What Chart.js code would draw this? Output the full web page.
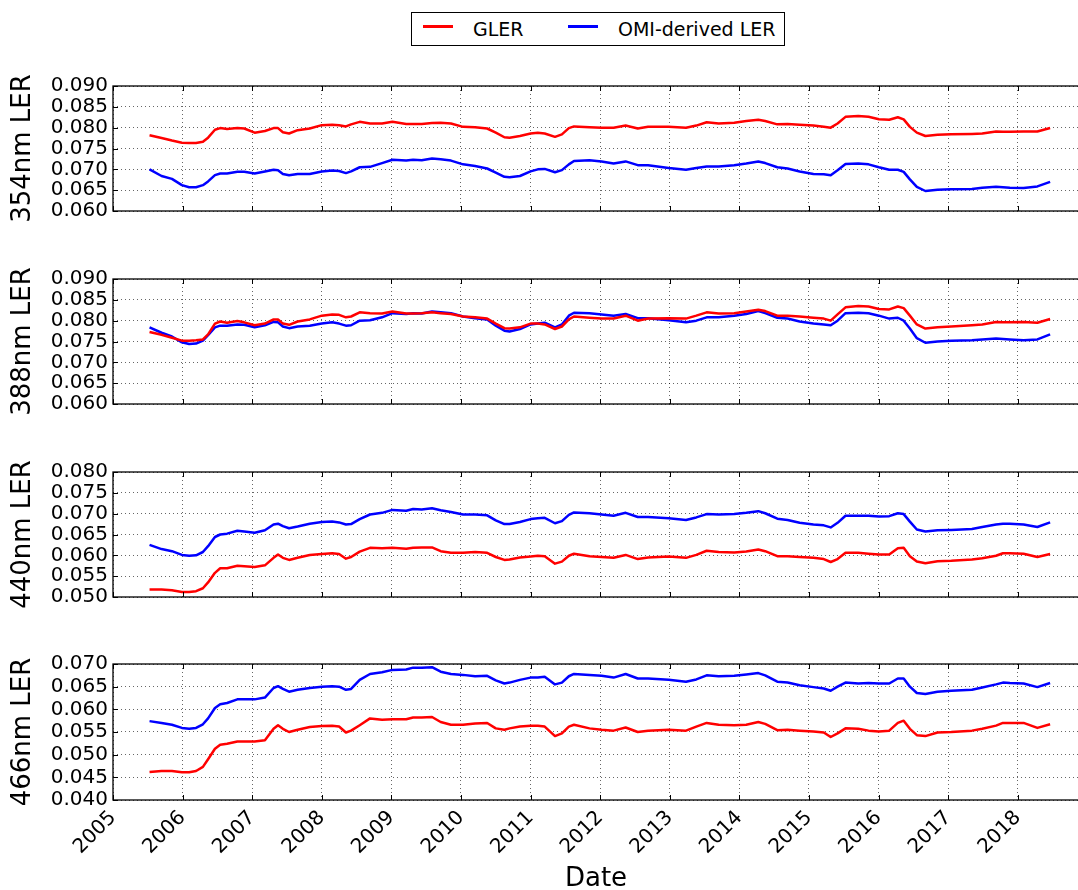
<!DOCTYPE html>
<html>
<head>
<meta charset="utf-8">
<script src="https://cdn.jsdelivr.net/npm/chart.js@4.4.1/dist/chart.umd.min.js"></script>
<style>
  body { margin: 0; background: #fff; }
  #wrap { position: relative; width: 1078px; height: 890px; overflow: hidden; font-family: "DejaVu Sans", sans-serif; }
  #legend { position: absolute; left: 411px; top: 12px; width: 374px; height: 34px; box-sizing: border-box; border: 1px solid #000; background: #fff; z-index: 2; }
  #legend .swatch { position: absolute; top: 12px; width: 30px; height: 3px; }
  #legend .lab { position: absolute; top: 0; line-height: 32px; font-size: 19px; color: #000; white-space: nowrap; }
</style>
</head>
<body>
<div id="wrap">
  <div id="legend">
    <span class="swatch" style="left:11px;background:#ff0000"></span><span class="lab" style="left:61px">GLER</span>
    <span class="swatch" style="left:156px;background:#0000ff"></span><span class="lab" style="left:206px">OMI-derived LER</span>
  </div>
</div>
<script>
// monthly samples, decimal years
const dates = [
  2005.525, 2005.698, 2005.847, 2005.990, 2006.094, 2006.193, 2006.292, 2006.366, 2006.465, 2006.540,
  2006.639, 2006.787, 2006.886, 2007.035, 2007.183, 2007.307, 2007.371, 2007.441, 2007.530, 2007.653,
  2007.827, 2008.000, 2008.149, 2008.248, 2008.347, 2008.421, 2008.545, 2008.693, 2008.866, 2009.015,
  2009.213, 2009.312, 2009.436, 2009.584, 2009.708, 2009.856, 2010.030, 2010.203, 2010.376, 2010.500,
  2010.624, 2010.698, 2010.847, 2011.000,
  2011.104, 2011.203, 2011.351, 2011.450, 2011.550, 2011.624, 2011.847, 2012.020, 2012.193, 2012.366,
  2012.540, 2012.688, 2012.985, 2013.233, 2013.381, 2013.530, 2013.703, 2013.926, 2014.099, 2014.272,
  2014.371, 2014.545, 2014.693, 2014.866, 2015.064, 2015.213, 2015.312, 2015.411, 2015.525, 2015.708,
  2015.856, 2016.005, 2016.153, 2016.277, 2016.361, 2016.450, 2016.550, 2016.673, 2016.847, 2017.045,
  2017.342, 2017.490, 2017.688, 2017.787, 2017.886, 2018.084, 2018.282, 2018.465
];

const gler354 = [
  0.0782, 0.0775, 0.0769, 0.0764, 0.0763, 0.0763, 0.0766, 0.0776, 0.0795, 0.0799,
  0.0797, 0.0799, 0.0798, 0.0788, 0.0792, 0.0799, 0.0799, 0.0789, 0.0786, 0.0794,
  0.0798, 0.0806, 0.0807, 0.0806, 0.0803, 0.0808, 0.0814, 0.0810, 0.0810, 0.0814,
  0.0809, 0.0809, 0.0809, 0.0811, 0.0812, 0.0810, 0.0802, 0.0801, 0.0798, 0.0788,
  0.0777, 0.0776, 0.0780, 0.0786,
  0.0788, 0.0786, 0.0778, 0.0784, 0.0799, 0.0803, 0.0801, 0.0800, 0.0800, 0.0805,
  0.0798, 0.0802, 0.0802, 0.0800, 0.0805, 0.0813, 0.0810, 0.0812, 0.0816, 0.0819,
  0.0816, 0.0808, 0.0809, 0.0807, 0.0805, 0.0802, 0.0800, 0.0810, 0.0826, 0.0828,
  0.0826, 0.0820, 0.0819, 0.0825, 0.0820, 0.0802, 0.0788, 0.0780, 0.0783, 0.0784,
  0.0785, 0.0786, 0.0791, 0.0790, 0.0790, 0.0791, 0.0791, 0.0799
];
const omi354 = [
  0.0700, 0.0684, 0.0677, 0.0662, 0.0657, 0.0657, 0.0662, 0.0671, 0.0686, 0.0690,
  0.0690, 0.0694, 0.0694, 0.0690, 0.0695, 0.0699, 0.0698, 0.0689, 0.0686, 0.0689,
  0.0689, 0.0695, 0.0697, 0.0696, 0.0691, 0.0695, 0.0705, 0.0706, 0.0715, 0.0723,
  0.0721, 0.0723, 0.0722, 0.0726, 0.0724, 0.0721, 0.0712, 0.0708, 0.0702, 0.0692,
  0.0682, 0.0681, 0.0684, 0.0695,
  0.0700, 0.0701, 0.0693, 0.0698, 0.0712, 0.0720, 0.0722, 0.0719, 0.0714, 0.0719,
  0.0710, 0.0710, 0.0703, 0.0699, 0.0703, 0.0707, 0.0707, 0.0710, 0.0714, 0.0719,
  0.0715, 0.0705, 0.0702, 0.0695, 0.0689, 0.0688, 0.0686, 0.0698, 0.0713, 0.0714,
  0.0712, 0.0705, 0.0699, 0.0699, 0.0694, 0.0676, 0.0658, 0.0648, 0.0651, 0.0652,
  0.0653, 0.0656, 0.0658, 0.0657, 0.0656, 0.0655, 0.0659, 0.0670
];
const gler388 = [
  0.0773, 0.0766, 0.0759, 0.0752, 0.0752, 0.0753, 0.0755, 0.0767, 0.0793, 0.0798,
  0.0795, 0.0799, 0.0796, 0.0789, 0.0793, 0.0803, 0.0803, 0.0793, 0.0790, 0.0798,
  0.0803, 0.0812, 0.0815, 0.0814, 0.0808, 0.0810, 0.0820, 0.0818, 0.0817, 0.0822,
  0.0817, 0.0817, 0.0818, 0.0820, 0.0818, 0.0816, 0.0810, 0.0808, 0.0805, 0.0793,
  0.0782, 0.0781, 0.0784, 0.0793,
  0.0793, 0.0791, 0.0780, 0.0786, 0.0803, 0.0810, 0.0807, 0.0805, 0.0805, 0.0812,
  0.0800, 0.0805, 0.0806, 0.0805, 0.0812, 0.0820, 0.0817, 0.0818, 0.0822, 0.0826,
  0.0823, 0.0812, 0.0812, 0.0810, 0.0807, 0.0805, 0.0800, 0.0815, 0.0832, 0.0835,
  0.0834, 0.0828, 0.0827, 0.0834, 0.0830, 0.0812, 0.0791, 0.0781, 0.0784, 0.0786,
  0.0789, 0.0791, 0.0797, 0.0796, 0.0796, 0.0797, 0.0795, 0.0804
];
const omi388 = [
  0.0784, 0.0771, 0.0762, 0.0748, 0.0744, 0.0745, 0.0752, 0.0765, 0.0784, 0.0788,
  0.0788, 0.0791, 0.0790, 0.0784, 0.0789, 0.0797, 0.0796, 0.0786, 0.0782, 0.0786,
  0.0788, 0.0793, 0.0796, 0.0793, 0.0788, 0.0789, 0.0800, 0.0801, 0.0808, 0.0818,
  0.0816, 0.0818, 0.0817, 0.0822, 0.0820, 0.0818, 0.0810, 0.0806, 0.0803, 0.0788,
  0.0776, 0.0774, 0.0780, 0.0791,
  0.0793, 0.0795, 0.0784, 0.0791, 0.0812, 0.0819, 0.0818, 0.0815, 0.0812, 0.0816,
  0.0806, 0.0806, 0.0801, 0.0796, 0.0800, 0.0808, 0.0808, 0.0812, 0.0816, 0.0823,
  0.0818, 0.0807, 0.0805, 0.0798, 0.0793, 0.0791, 0.0789, 0.0800, 0.0818, 0.0819,
  0.0818, 0.0812, 0.0805, 0.0807, 0.0800, 0.0781, 0.0758, 0.0747, 0.0750, 0.0752,
  0.0753, 0.0755, 0.0757, 0.0756, 0.0755, 0.0753, 0.0755, 0.0767
];
const gler440 = [
  0.0518, 0.0518, 0.0516, 0.0512, 0.0512, 0.0514, 0.0521, 0.0535, 0.0558, 0.0569,
  0.0569, 0.0575, 0.0574, 0.0572, 0.0576, 0.0594, 0.0602, 0.0594, 0.0589, 0.0594,
  0.0601, 0.0603, 0.0605, 0.0603, 0.0592, 0.0596, 0.0609, 0.0618, 0.0617, 0.0618,
  0.0616, 0.0618, 0.0619, 0.0619, 0.0610, 0.0606, 0.0606, 0.0608, 0.0606, 0.0596,
  0.0589, 0.0590, 0.0595, 0.0597,
  0.0599, 0.0598, 0.0580, 0.0585, 0.0599, 0.0604, 0.0598, 0.0596, 0.0594, 0.0601,
  0.0591, 0.0595, 0.0597, 0.0594, 0.0601, 0.0611, 0.0608, 0.0607, 0.0609, 0.0614,
  0.0610, 0.0598, 0.0598, 0.0596, 0.0594, 0.0591, 0.0584, 0.0591, 0.0606, 0.0606,
  0.0604, 0.0602, 0.0602, 0.0617, 0.0618, 0.0598, 0.0585, 0.0581, 0.0586, 0.0587,
  0.0590, 0.0593, 0.0599, 0.0605, 0.0605, 0.0604, 0.0596, 0.0603
];
const omi440 = [
  0.0625, 0.0615, 0.0610, 0.0601, 0.0599, 0.0600, 0.0608, 0.0622, 0.0644, 0.0650,
  0.0652, 0.0659, 0.0657, 0.0654, 0.0660, 0.0674, 0.0676, 0.0670, 0.0665, 0.0669,
  0.0676, 0.0680, 0.0681, 0.0679, 0.0674, 0.0675, 0.0687, 0.0698, 0.0702, 0.0709,
  0.0707, 0.0711, 0.0710, 0.0713, 0.0708, 0.0704, 0.0698, 0.0698, 0.0696, 0.0684,
  0.0675, 0.0675, 0.0680, 0.0687,
  0.0689, 0.0690, 0.0677, 0.0682, 0.0697, 0.0703, 0.0701, 0.0698, 0.0695, 0.0702,
  0.0692, 0.0692, 0.0689, 0.0685, 0.0691, 0.0699, 0.0698, 0.0699, 0.0702, 0.0706,
  0.0701, 0.0688, 0.0685, 0.0678, 0.0674, 0.0672, 0.0667, 0.0678, 0.0695, 0.0695,
  0.0695, 0.0693, 0.0694, 0.0701, 0.0699, 0.0681, 0.0662, 0.0657, 0.0660, 0.0661,
  0.0663, 0.0668, 0.0674, 0.0676, 0.0676, 0.0674, 0.0668, 0.0679
];
const gler466 = [
  0.0462, 0.0464, 0.0464, 0.0461, 0.0461, 0.0464, 0.0473, 0.0490, 0.0513, 0.0522,
  0.0524, 0.0529, 0.0529, 0.0529, 0.0532, 0.0557, 0.0565, 0.0557, 0.0550, 0.0555,
  0.0561, 0.0563, 0.0564, 0.0562, 0.0549, 0.0553, 0.0565, 0.0580, 0.0577, 0.0578,
  0.0578, 0.0582, 0.0582, 0.0583, 0.0572, 0.0566, 0.0566, 0.0569, 0.0570, 0.0558,
  0.0555, 0.0558, 0.0562, 0.0564,
  0.0564, 0.0562, 0.0541, 0.0547, 0.0562, 0.0566, 0.0558, 0.0555, 0.0553, 0.0560,
  0.0550, 0.0553, 0.0555, 0.0553, 0.0562, 0.0570, 0.0566, 0.0565, 0.0566, 0.0572,
  0.0568, 0.0554, 0.0555, 0.0553, 0.0551, 0.0549, 0.0539, 0.0547, 0.0558, 0.0557,
  0.0553, 0.0551, 0.0553, 0.0570, 0.0575, 0.0557, 0.0543, 0.0541, 0.0549, 0.0550,
  0.0553, 0.0557, 0.0564, 0.0570, 0.0570, 0.0570, 0.0559, 0.0567
];
const omi466 = [
  0.0574, 0.0570, 0.0566, 0.0559, 0.0557, 0.0559, 0.0567, 0.0580, 0.0603, 0.0611,
  0.0614, 0.0622, 0.0622, 0.0622, 0.0626, 0.0647, 0.0651, 0.0645, 0.0639, 0.0643,
  0.0647, 0.0650, 0.0651, 0.0650, 0.0643, 0.0645, 0.0665, 0.0678, 0.0682, 0.0687,
  0.0688, 0.0692, 0.0692, 0.0693, 0.0683, 0.0678, 0.0676, 0.0673, 0.0674, 0.0664,
  0.0657, 0.0659, 0.0665, 0.0670,
  0.0670, 0.0672, 0.0655, 0.0659, 0.0673, 0.0678, 0.0676, 0.0674, 0.0670, 0.0678,
  0.0668, 0.0668, 0.0665, 0.0661, 0.0666, 0.0675, 0.0673, 0.0674, 0.0677, 0.0680,
  0.0675, 0.0661, 0.0659, 0.0653, 0.0649, 0.0646, 0.0641, 0.0650, 0.0659, 0.0657,
  0.0658, 0.0657, 0.0657, 0.0668, 0.0668, 0.0650, 0.0636, 0.0634, 0.0639, 0.0641,
  0.0643, 0.0648, 0.0655, 0.0659, 0.0658, 0.0657, 0.0649, 0.0658
];

const wavelengths = ["354nm", "388nm", "440nm", "466nm"];
const yMin = [0.06, 0.06, 0.05, 0.04];
const yMax = [0.09, 0.09, 0.08, 0.07];
const yearMin = 2005;
const yearMax = 2018.88;
const glerSeries = [gler354, gler388, gler440, gler466];
const omiSeries = [omi354, omi388, omi440, omi466];

// layout
const FONT = "DejaVu Sans";
const AREA_TOPS = [75, 268, 461, 653];
const AREA_H = 147;
const PAD = 6;
const CANVAS_W = 1100;
const AXIS_W = 113;
const RIGHT_PAD = 21;
const GRID = "rgba(0,0,0,0.6)";

const toPoints = (values) => values.map((v, i) => ({ x: dates[i], y: v }));

// matplotlib-like box with inward ticks
const frame = {
  id: "frame",
  afterDraw(chart) {
    const { ctx, chartArea: a, scales } = chart;
    ctx.save();
    ctx.strokeStyle = "#000";
    ctx.lineWidth = 1.3;
    ctx.strokeRect(a.left, a.top, a.right - a.left, a.bottom - a.top);
    ctx.lineWidth = 1;
    ctx.beginPath();
    scales.x.ticks.forEach((t) => {
      const px = Math.round(scales.x.getPixelForValue(t.value)) + 0.5;
      ctx.moveTo(px, a.bottom);
      ctx.lineTo(px, a.bottom - 5);
      ctx.moveTo(px, a.top);
      ctx.lineTo(px, a.top + 5);
    });
    scales.y.ticks.forEach((t) => {
      const py = Math.round(scales.y.getPixelForValue(t.value)) + 0.5;
      ctx.moveTo(a.left, py);
      ctx.lineTo(a.left + 5, py);
    });
    ctx.stroke();
    ctx.restore();
  },
};

const wrap = document.getElementById("wrap");

const makePanel = (i) => {
  const last = i === wavelengths.length - 1;
  const canvas = document.createElement("canvas");
  canvas.width = CANVAS_W;
  canvas.height = last ? PAD + AREA_H + 92 : PAD * 2 + AREA_H;
  canvas.style.position = "absolute";
  canvas.style.left = "0px";
  canvas.style.top = AREA_TOPS[i] - PAD + "px";
  wrap.appendChild(canvas);

  new Chart(canvas, {
    type: "line",
    data: {
      datasets: [
        {
          label: "GLER",
          data: toPoints(glerSeries[i]),
          borderColor: "#ff0000",
          borderWidth: 2.5,
          borderJoinStyle: "round",
          pointRadius: 0,
          fill: false,
        },
        {
          label: "OMI-derived LER",
          data: toPoints(omiSeries[i]),
          borderColor: "#0000ff",
          borderWidth: 2.5,
          borderJoinStyle: "round",
          pointRadius: 0,
          fill: false,
        },
      ],
    },
    options: {
      responsive: false,
      animation: false,
      events: [],
      layout: {
        padding: { top: PAD, bottom: last ? 0 : PAD, left: 0, right: RIGHT_PAD },
      },
      plugins: {
        legend: { display: false },
        tooltip: { enabled: false },
      },
      scales: {
        x: {
          type: "linear",
          min: yearMin,
          max: yearMax,
          grid: { color: GRID, lineWidth: 1, drawTicks: false },
          border: { display: false, dash: [1, 3] },
          ticks: {
            display: last,
            stepSize: 1,
            includeBounds: false,
            autoSkip: false,
            minRotation: 45,
            maxRotation: 45,
            padding: 6,
            color: "#000",
            font: { family: FONT, size: 20 },
            callback: (v) => String(v),
          },
          title: {
            display: last,
            text: "Date",
            color: "#000",
            font: { family: FONT, size: 26, lineHeight: 1 },
            padding: { top: 0, bottom: 0 },
          },
          afterFit: (s) => {
            s.height = last ? 92 : 0;
          },
        },
        y: {
          min: yMin[i],
          max: yMax[i],
          grid: { color: GRID, lineWidth: 1, drawTicks: false },
          border: { display: false, dash: [1, 3] },
          ticks: {
            stepSize: 0.005,
            autoSkip: false,
            padding: 5,
            color: "#000",
            font: { family: FONT, size: 20 },
            callback: (v) => v.toFixed(3),
          },
          title: {
            display: true,
            text: wavelengths[i] + " LER",
            color: "#000",
            font: { family: FONT, size: 26 },
            padding: { top: 8, bottom: 0 },
          },
          afterFit: (s) => {
            s.width = AXIS_W;
          },
        },
      },
    },
    plugins: [frame],
  });
};

wavelengths.forEach((w, i) => makePanel(i));
</script>
</body>
</html>
